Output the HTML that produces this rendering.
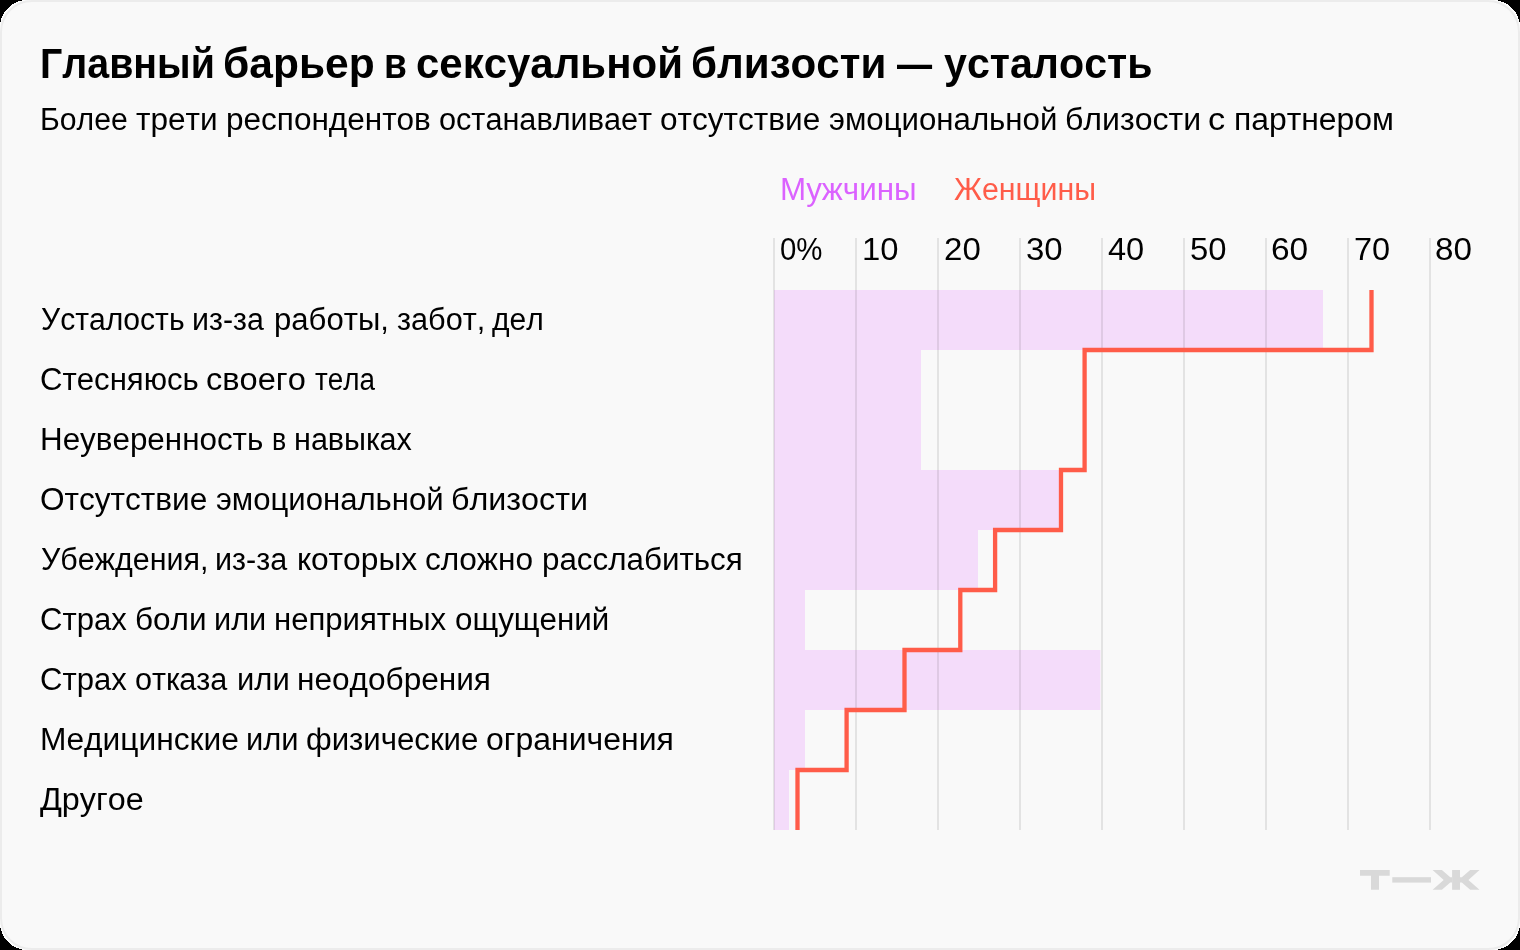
<!DOCTYPE html>
<html lang="ru">
<head>
<meta charset="utf-8">
<title>Главный барьер в сексуальной близости — усталость</title>
<style>
html,body{margin:0;padding:0;background:#fdfdfd;}
body{width:1520px;height:950px;position:relative;overflow:hidden;font-family:"Liberation Sans",sans-serif;color:#000;}
#card{position:absolute;left:0;top:0;width:1516px;height:946px;border:2px solid #ececec;border-radius:32px;background:#f9f9f9;}
#txt{position:absolute;left:0;top:0;width:1520px;height:950px;will-change:transform;font-kerning:none;}
.t{position:absolute;white-space:nowrap;transform-origin:0 0;line-height:1;display:block;}
svg{position:absolute;left:0;top:0;}
</style>
</head>
<body>
<div id="card"></div>
<svg width="1520" height="950" viewBox="0 0 1520 950">
<path fill="#f4dcfa" d="M774 290H1323V350H921V470H1060V530H978V590H805V650H1100.4V710H805V770H789V830H774Z"/>
<g fill="rgba(0,0,0,0.085)"><rect x="773" y="238" width="2" height="592"/><rect x="855" y="238" width="2" height="592"/><rect x="937" y="238" width="2" height="592"/><rect x="1019" y="238" width="2" height="592"/><rect x="1101" y="238" width="2" height="592"/><rect x="1183" y="238" width="2" height="592"/><rect x="1265" y="238" width="2" height="592"/><rect x="1347" y="238" width="2" height="592"/><rect x="1429" y="238" width="2" height="592"/></g>
<path fill="none" stroke="#ff5c49" stroke-width="4.3" stroke-linejoin="miter" d="M1371.5 290V350H1084.6V470H1061V530H995.1V590H960.3V650H904.5V710H846.6V770H797.5V830"/>
<g fill="#d9d9d9">
<path d="M1360 870H1389.7V875.8H1379V889.8H1371V875.8H1360Z"/>
<rect x="1392.3" y="877.2" width="38.7" height="5.4"/>
<rect x="1452.1" y="870" width="7.9" height="19.8"/>
<path d="M1432.6 870H1441.9L1450.3 877.2H1452.1V882.6H1450.3L1441.9 889.8H1432.6L1443.7 879.9Z"/>
<path d="M1479.5 870H1470.2L1461.8 877.2H1460V882.6H1461.8L1470.2 889.8H1479.5L1468.4 879.9Z"/>
</g>
<g fill="#000" shape-rendering="crispEdges">
<path d="M-1 -1H28V-0.2A28.2 28.2 0 0 0 -0.2 28H-1Z"/>
<path d="M1521 -1H1492V-0.2A28.2 28.2 0 0 1 1520.2 28H1521Z"/>
<path d="M-1 951H28V950.2A28.2 28.2 0 0 1 -0.2 922H-1Z"/>
<path d="M1521 951H1492V950.2A28.2 28.2 0 0 0 1520.2 922H1521Z"/>
</g>
</svg>
<div id="txt">
<span class="t" style="left:40.17px;top:41.62px;font-size:43.2px;transform:scaleX(0.9104);font-weight:bold;">Главный</span>
<span class="t" style="left:223.25px;top:41.62px;font-size:43.2px;transform:scaleX(0.9846);font-weight:bold;">барьер</span>
<span class="t" style="left:384.11px;top:41.62px;font-size:43.2px;transform:scaleX(0.8603);font-weight:bold;">в</span>
<span class="t" style="left:415.76px;top:41.62px;font-size:43.2px;transform:scaleX(0.9718);font-weight:bold;">сексуальной</span>
<span class="t" style="left:690.87px;top:41.62px;font-size:43.2px;transform:scaleX(0.9754);font-weight:bold;">близости</span>
<span class="t" style="left:897.10px;top:41.62px;font-size:43.2px;transform:scaleX(0.8125);font-weight:bold;">—</span>
<span class="t" style="left:944.28px;top:41.62px;font-size:43.2px;transform:scaleX(0.9535);font-weight:bold;">усталость</span>
<span class="t" style="left:39.73px;top:103.99px;font-size:30.6px;transform:scaleX(0.9857);">Более</span>
<span class="t" style="left:136.06px;top:103.99px;font-size:30.6px;transform:scaleX(1.0312);">трети</span>
<span class="t" style="left:225.97px;top:103.99px;font-size:30.6px;transform:scaleX(1.0303);">респондентов</span>
<span class="t" style="left:439.11px;top:103.99px;font-size:30.6px;transform:scaleX(1.0016);">останавливает</span>
<span class="t" style="left:660.27px;top:103.99px;font-size:30.6px;transform:scaleX(1.0315);">отсутствие</span>
<span class="t" style="left:829.06px;top:103.99px;font-size:30.6px;transform:scaleX(1.0195);">эмоциональной</span>
<span class="t" style="left:1064.62px;top:103.99px;font-size:30.6px;transform:scaleX(1.0483);">близости</span>
<span class="t" style="left:1207.74px;top:103.99px;font-size:30.6px;transform:scaleX(1.1218);">с</span>
<span class="t" style="left:1233.69px;top:103.99px;font-size:30.6px;transform:scaleX(1.0409);">партнером</span>
<span class="t" style="left:40.59px;top:304.09px;font-size:30.6px;transform:scaleX(0.9845);">Усталость</span>
<span class="t" style="left:192.09px;top:304.09px;font-size:30.6px;transform:scaleX(0.9923);">из-за</span>
<span class="t" style="left:273.80px;top:304.09px;font-size:30.6px;transform:scaleX(1.0160);">работы,</span>
<span class="t" style="left:396.87px;top:304.09px;font-size:30.6px;transform:scaleX(1.0020);">забот,</span>
<span class="t" style="left:491.61px;top:304.09px;font-size:30.6px;transform:scaleX(0.9800);">дел</span>
<span class="t" style="left:39.82px;top:364.09px;font-size:30.6px;transform:scaleX(1.0177);">Стесняюсь</span>
<span class="t" style="left:206.22px;top:364.09px;font-size:30.6px;transform:scaleX(1.0648);">своего</span>
<span class="t" style="left:315.42px;top:364.09px;font-size:30.6px;transform:scaleX(0.9115);">тела</span>
<span class="t" style="left:39.83px;top:424.09px;font-size:30.6px;transform:scaleX(1.0255);">Неуверенность</span>
<span class="t" style="left:271.94px;top:424.09px;font-size:30.6px;transform:scaleX(0.8747);">в</span>
<span class="t" style="left:294.18px;top:424.09px;font-size:30.6px;transform:scaleX(0.9989);">навыках</span>
<span class="t" style="left:39.80px;top:484.09px;font-size:30.6px;transform:scaleX(1.0320);">Отсутствие</span>
<span class="t" style="left:215.66px;top:484.09px;font-size:30.6px;transform:scaleX(1.0163);">эмоциональной</span>
<span class="t" style="left:450.51px;top:484.09px;font-size:30.6px;transform:scaleX(1.0546);">близости</span>
<span class="t" style="left:40.58px;top:544.09px;font-size:30.6px;transform:scaleX(0.9944);">Убеждения,</span>
<span class="t" style="left:215.38px;top:544.09px;font-size:30.6px;transform:scaleX(0.9980);">из-за</span>
<span class="t" style="left:296.76px;top:544.09px;font-size:30.6px;transform:scaleX(1.0374);">которых</span>
<span class="t" style="left:425.46px;top:544.09px;font-size:30.6px;transform:scaleX(1.0336);">сложно</span>
<span class="t" style="left:541.78px;top:544.09px;font-size:30.6px;transform:scaleX(1.0247);">расслабиться</span>
<span class="t" style="left:39.72px;top:604.09px;font-size:30.6px;transform:scaleX(1.0148);">Страх</span>
<span class="t" style="left:134.75px;top:604.09px;font-size:30.6px;transform:scaleX(1.0293);">боли</span>
<span class="t" style="left:213.77px;top:604.09px;font-size:30.6px;transform:scaleX(1.0042);">или</span>
<span class="t" style="left:273.64px;top:604.09px;font-size:30.6px;transform:scaleX(1.0166);">неприятных</span>
<span class="t" style="left:455.09px;top:604.09px;font-size:30.6px;transform:scaleX(1.0233);">ощущений</span>
<span class="t" style="left:39.72px;top:664.09px;font-size:30.6px;transform:scaleX(1.0148);">Страх</span>
<span class="t" style="left:134.92px;top:664.09px;font-size:30.6px;transform:scaleX(1.0000);">отказа</span>
<span class="t" style="left:237.05px;top:664.09px;font-size:30.6px;transform:scaleX(1.0126);">или</span>
<span class="t" style="left:297.11px;top:664.09px;font-size:30.6px;transform:scaleX(1.0322);">неодобрения</span>
<span class="t" style="left:39.80px;top:724.09px;font-size:30.6px;transform:scaleX(1.0367);">Медицинские</span>
<span class="t" style="left:245.96px;top:724.09px;font-size:30.6px;transform:scaleX(1.0105);">или</span>
<span class="t" style="left:306.39px;top:724.09px;font-size:30.6px;transform:scaleX(1.0192);">физические</span>
<span class="t" style="left:486.46px;top:724.09px;font-size:30.6px;transform:scaleX(1.0452);">ограничения</span>
<span class="t" style="left:40.06px;top:784.09px;font-size:30.6px;transform:scaleX(1.0553);">Другое</span>
<span class="t" style="left:779.83px;top:173.99px;font-size:30.6px;transform:scaleX(1.0252);color:#db62ff;">Мужчины</span>
<span class="t" style="left:954.29px;top:173.99px;font-size:30.6px;transform:scaleX(0.9908);color:#ff5c49;">Женщины</span>
<span class="t" style="left:779.65px;top:233.75px;font-size:31px;transform:scaleX(0.9485);">0%</span>
<span class="t" style="left:861.70px;top:233.75px;font-size:31px;transform:scaleX(1.0579);">10</span>
<span class="t" style="left:943.54px;top:233.75px;font-size:31px;transform:scaleX(1.0659);">20</span>
<span class="t" style="left:1025.75px;top:233.75px;font-size:31px;transform:scaleX(1.0626);">30</span>
<span class="t" style="left:1108.45px;top:233.75px;font-size:31px;transform:scaleX(1.0504);">40</span>
<span class="t" style="left:1190.09px;top:233.75px;font-size:31px;transform:scaleX(1.0584);">50</span>
<span class="t" style="left:1271.30px;top:233.75px;font-size:31px;transform:scaleX(1.0790);">60</span>
<span class="t" style="left:1354.23px;top:233.75px;font-size:31px;transform:scaleX(1.0479);">70</span>
<span class="t" style="left:1435.36px;top:233.75px;font-size:31px;transform:scaleX(1.0713);">80</span>
</div>
</body>
</html>
